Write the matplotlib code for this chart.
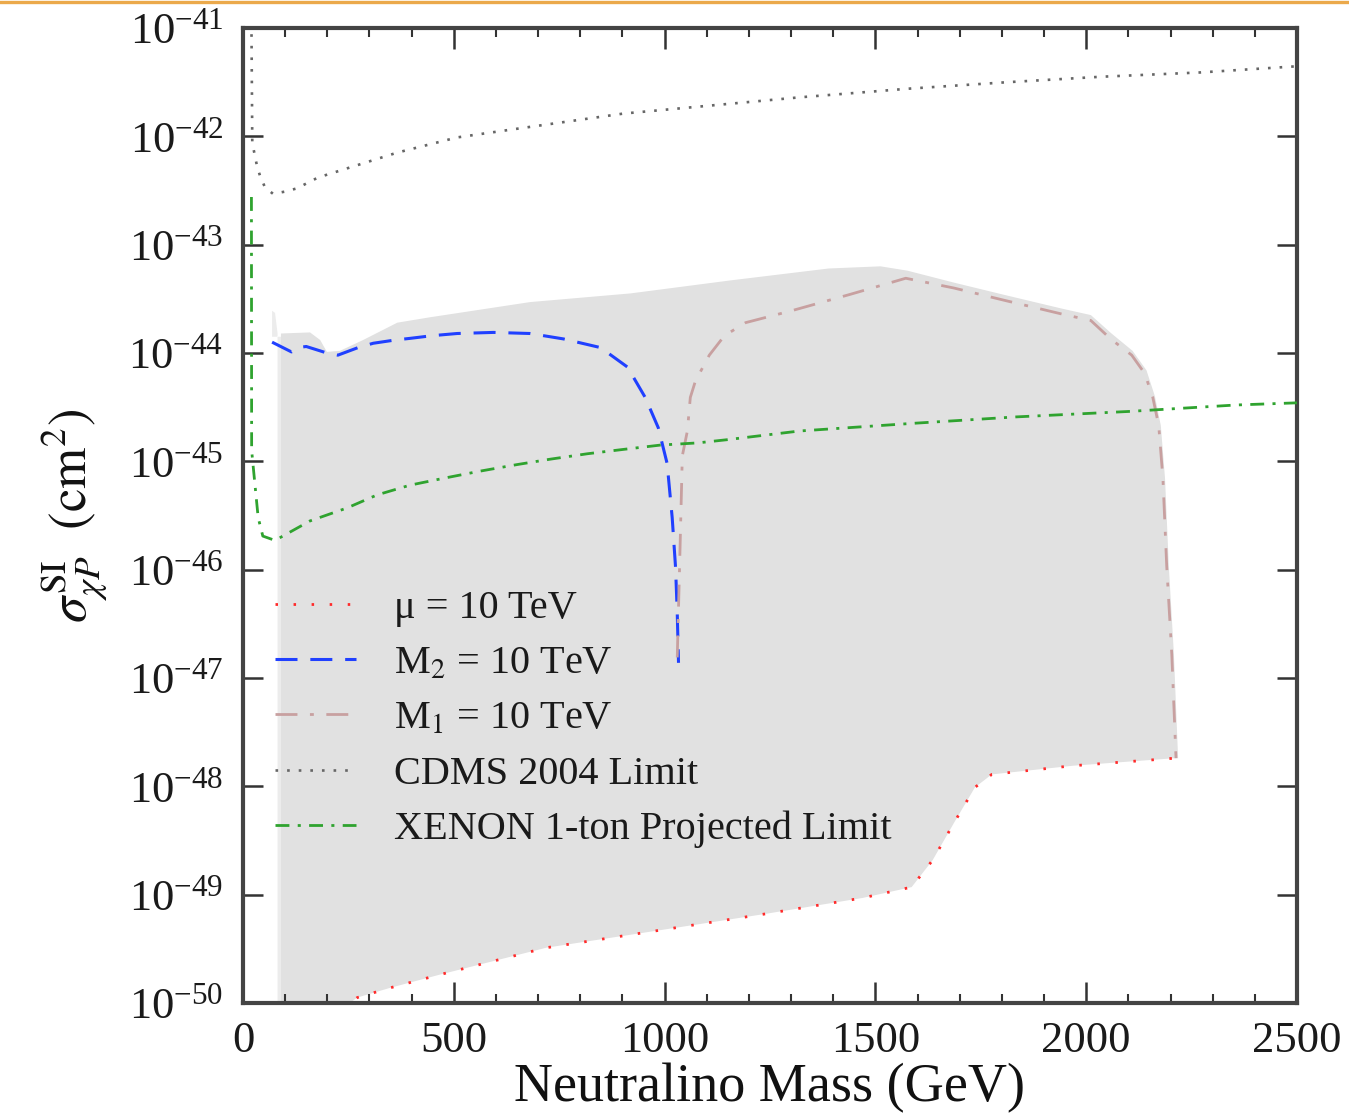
import numpy as np
import matplotlib
matplotlib.use('Agg')
import matplotlib.pyplot as plt
from matplotlib.ticker import MultipleLocator, FixedLocator, NullLocator, LogFormatterMathtext
from matplotlib.lines import Line2D

plt.rcParams['font.family'] = ['Liberation Serif', 'DejaVu Serif']
plt.rcParams['mathtext.fontset'] = 'stix'

# ---------------- data (mass in GeV, log10 of cross section in cm^2) ----------------
mu_mass = [200, 271, 349, 465, 719, 969, 1235, 1470, 1586, 1636, 1686, 1736, 1776, 1968, 2211]
mu_log = [-50.15, -49.95, -49.86, -49.74, -49.49, -49.34, -49.18, -49.03, -48.93,
          -48.68, -48.34, -48.01, -47.89, -47.81, -47.74]

m2_mass = [69, 115, 130, 150, 199, 225, 273, 309, 361, 396, 449, 508, 594, 681, 760,
           848, 912, 954, 985, 1006, 1018, 1026, 1030, 1033]
m2_log = [-43.90, -43.99, -43.95, -43.94, -44.00, -44.02, -43.95, -43.91, -43.88, -43.865,
          -43.84, -43.82, -43.81, -43.82, -43.87, -43.95, -44.13, -44.41, -44.69, -45.02,
          -45.52, -45.98, -46.40, -46.86]

m1_mass = [1030, 1036, 1042, 1054, 1061, 1073, 1106, 1142, 1192, 1301, 1439, 1572, 1686,
           1802, 1942, 2011, 2058, 2108, 2139, 2158, 2172, 2182, 2191, 2203, 2213]
m1_log = [-46.81, -45.90, -44.95, -44.72, -44.41, -44.26, -44.02, -43.84, -43.72, -43.61,
          -43.46, -43.31, -43.40, -43.51, -43.64, -43.70, -43.87, -44.02, -44.19, -44.41,
          -44.67, -45.16, -45.97, -46.78, -47.74]

cdms_mass = [20, 21, 22, 33, 40, 52, 71, 100, 128, 178, 366, 508, 650, 902, 1320, 1579,
             1814, 2035, 2272, 2493, 2500]
cdms_log = [-40.95, -41.50, -42.06, -42.27, -42.36, -42.47, -42.53, -42.51, -42.48, -42.38,
            -42.15, -42.01, -41.93, -41.79, -41.64, -41.56, -41.50, -41.45, -41.41, -41.355,
            -41.35]

xenon_mass = [20, 20.5, 28, 36, 47, 76, 159, 247, 318, 396, 484, 563, 650, 729, 817, 902,
              990, 1078, 1149, 1320, 1586, 1833, 2099, 2355, 2500]
xenon_log = [-42.56, -44.90, -45.20, -45.52, -45.69, -45.73, -45.55, -45.43, -45.31, -45.22,
             -45.15, -45.09, -45.03, -44.98, -44.93, -44.89, -44.85, -44.83, -44.80, -44.72,
             -44.65, -44.59, -44.54, -44.48, -44.46]

# upper / right edge of the shaded region
band_top_mass = [90, 159, 183, 199, 230, 285, 366, 444, 681, 919, 1156, 1389, 1512, 1576,
                 1686, 1802, 1942, 2011, 2060, 2110, 2143, 2163, 2177, 2187, 2196, 2208, 2218]
band_top_log = [-43.82, -43.81, -43.88, -43.99, -43.98, -43.88, -43.72, -43.67, -43.53,
                -43.45, -43.33, -43.22, -43.20, -43.24, -43.35, -43.46, -43.59, -43.65,
                -43.82, -43.98, -44.16, -44.40, -44.67, -45.16, -45.97, -46.78, -47.74]
# thin light spike at the left edge of the region
spike_mass = [69, 69, 76, 82, 82, 90, 90]
spike_log = [-43.85, -43.61, -43.63, -43.82, -51.0, -51.0, -43.85]

labels = ['μ = 10 TeV', r'M$_2$ = 10 TeV', r'M$_1$ = 10 TeV', 'CDMS 2004 Limit',
          'XENON 1-ton Projected Limit']
x_ticks = [0, 500, 1000, 1500, 2000, 2500]
y_decades = list(range(-50, -40))

# ---------------- figure ----------------
W, H = 1349, 1118
fig = plt.figure(figsize=(W / 100, H / 100), dpi=100)
ax = fig.add_axes([243 / W, 1 - 1003 / H, 1054 / W, 975 / H])

p = lambda a: 10.0 ** np.asarray(a)

# shaded region: top edge, then back along the mu curve
poly_x = list(band_top_mass) + list(mu_mass[::-1]) + [150, 90]
poly_y = list(band_top_log) + list(mu_log[::-1]) + [-51.0, -51.0]
ax.fill(poly_x, p(poly_y), color='#e1e1e1', lw=0, zorder=1)
ax.fill(spike_mass, p(spike_log), color='#ececec', lw=0, zorder=1)

l_mu, = ax.plot(mu_mass, p(mu_log), color='#ff2a2a', lw=2.0,
                linestyle=(0, (0.9, 5.6)), zorder=3)
l_m2, = ax.plot(m2_mass, p(m2_log), color='#2040ff', lw=2.2,
                linestyle=(0, (7.2, 4.2)), zorder=3)
l_m1, = ax.plot(m1_mass, p(m1_log), color='#c8a0a0', lw=2.0,
                linestyle=(0, (7.9, 4.5, 1.4, 4.5)), zorder=3)
l_cd, = ax.plot(cdms_mass, p(cdms_log), color='#666666', lw=1.9,
                linestyle=(0, (1.0, 3.4)), zorder=3)
l_xe, = ax.plot(xenon_mass, p(xenon_log), color='#2fa32f', lw=2.0,
                linestyle=(0, (5, 3, 1.1, 3)), zorder=3)

ax.set_yscale('log')
ax.set_xlim(0, 2500)
ax.set_ylim(1e-50, 1e-41)

ax.set_xticks(x_ticks)
ax.set_xticklabels([str(t) for t in x_ticks])
ax.xaxis.set_minor_locator(MultipleLocator(100))
ax.yaxis.set_major_locator(FixedLocator([10.0 ** d for d in y_decades]))
ax.yaxis.set_major_formatter(LogFormatterMathtext())
ax.yaxis.set_minor_locator(NullLocator())

ax.tick_params(which='both', direction='in', top=True, right=True, colors='#333333',
               labelcolor='#1a1a1a')
ax.tick_params(axis='x', which='major', length=15, width=1.8, labelsize=32, pad=13)
ax.tick_params(axis='x', which='minor', length=6.5, width=1.5)
ax.tick_params(axis='y', which='major', length=14.5, width=1.8, labelsize=32, pad=14)

for s in ax.spines.values():
    s.set_linewidth(3)
    s.set_color('#444444')

ax.set_xlabel('Neutralino Mass (GeV)', fontsize=39, color='#111111', labelpad=1)
ax.set_ylabel(r'$\sigma^{\rm SI}_{\chi P}\ \ (\rm cm^2)$', fontsize=38, color='#111111',
              labelpad=14)

leg = ax.legend([l_mu, l_m2, l_m1, l_cd, l_xe], labels, loc='upper left',
                bbox_to_anchor=(0.0304, 0.424), frameon=False, fontsize=29,
                handlelength=2.0, handletextpad=0.95, labelspacing=0.45,
                borderpad=0, borderaxespad=0)
for t in leg.get_texts():
    t.set_color('#1a1a1a')

# orange strip along the top edge of the picture
fig.add_artist(Line2D([0, 1], [1 - 1.5 / H, 1 - 1.5 / H], transform=fig.transFigure,
                      color='#eba94b', lw=2.4))

fig.savefig('out.png', dpi=100)
